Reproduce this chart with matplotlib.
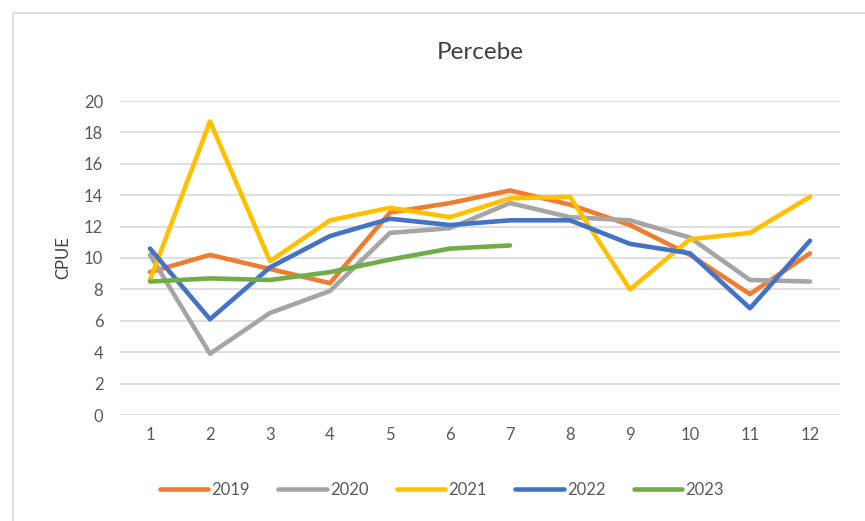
import numpy as np
import matplotlib.pyplot as plt
from matplotlib.patches import Rectangle

plt.rcParams['font.family'] = ['Lato', 'DejaVu Sans']

months = list(range(1, 13))
cpue_2019 = [9.1, 10.2, 9.3, 8.4, 12.9, 13.5, 14.3, 13.4, 12.1, 10.2, 7.7, 10.3]
cpue_2020 = [10.2, 3.9, 6.5, 7.9, 11.6, 11.9, 13.5, 12.6, 12.4, 11.3, 8.6, 8.5]
cpue_2021 = [8.6, 18.7, 9.8, 12.4, 13.2, 12.6, 13.8, 13.9, 8.0, 11.2, 11.6, 13.9]
cpue_2022 = [10.6, 6.1, 9.4, 11.4, 12.5, 12.1, 12.4, 12.4, 10.9, 10.3, 6.8, 11.1]
cpue_2023 = [8.5, 8.7, 8.6, 9.1, 9.9, 10.6, 10.8]
years = ['2019', '2020', '2021', '2022', '2023']
colors = ['#ED7D31', '#A5A5A5', '#FFC000', '#4472C4', '#70AD47']

fig = plt.figure(figsize=(8.65, 5.21), dpi=100)
ax = fig.add_axes([120/865, 1-415/521, 720/865, 314/521])

for vals, yr, c in zip([cpue_2019, cpue_2020, cpue_2021, cpue_2022, cpue_2023], years, colors):
    ax.plot(months[:len(vals)], vals, color=c, lw=3.3, label=yr, solid_capstyle='round')

ax.set_xlim(0.5, 12.5)
ax.set_ylim(0, 20)
ax.set_yticks(np.arange(0, 21, 2))
ax.set_xticks(months)
ax.grid(axis='y', color='#D9D9D9', lw=1.2)
ax.set_axisbelow(True)
for s in ax.spines.values():
    s.set_visible(False)
ax.tick_params(length=0, labelsize=12, colors='#595959', pad=9)
ax.tick_params(axis='y', pad=12)
ax.set_ylabel('CPUE', fontsize=12, color='#404040', labelpad=9)
ax.set_title('Percebe', fontsize=17.5, color='#404040', pad=30)

fig.legend(loc='center', bbox_to_anchor=(442/865, 1-490/521), ncol=5, frameon=False,
           fontsize=12, labelcolor='#595959', handlelength=2.9, handletextpad=0.2,
           columnspacing=1.7)

fig.patches.append(Rectangle((13/865, -0.1), 1.2, 1 - 13/521 + 0.1, transform=fig.transFigure,
                             fill=False, edgecolor='#D9D9D9', lw=1.2))

fig.savefig('out.png', dpi=100)
